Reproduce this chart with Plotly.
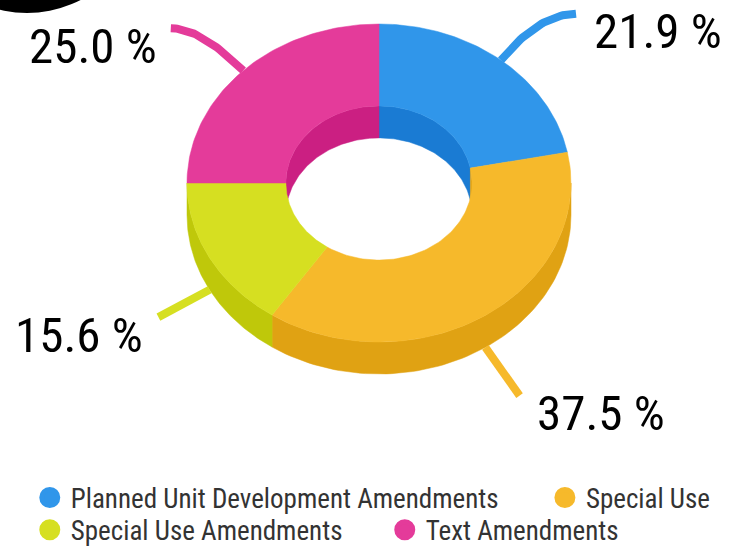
import numpy as np
import plotly.graph_objects as go

# ---- data ----
categories = ["Planned Unit Development Amendments", "Special Use",
              "Special Use Amendments", "Text Amendments"]
percent = [21.9, 37.5, 15.6, 25.0]

# ---- style ----
top_colors = ["#3096EA", "#F6B92B", "#D6DF21", "#E43B9A"]
dark_colors = ["#1A7BD3", "#E0A213", "#BFC80A", "#CB1F82"]
tick_len = [60, 58, 58, 60]        # radial run of each leader line
tick_ext = [37, 2, 0, 30]          # horizontal run of each leader line
label_gap = [16, 15, 13, 12]       # gap between leader end and label
FONT = "Roboto Condensed, Liberation Sans Narrow, DejaVu Sans Condensed, Roboto"

W, H = 738, 546
CX, CY, RX, RY, DEPTH, INNER = 379, 183, 192, 159, 32, 0.485


def pt(theta_deg, k=1.0, dy=0.0):
    t = np.radians(theta_deg)
    return CX + RX * k * np.cos(t), CY - RY * k * np.sin(t) + dy


def arc(a, b, k=1.0, dy=0.0, n=80):
    th = np.linspace(a, b, n)
    return pt(th, k, dy)


def overlap(lo, hi, intervals):
    out = []
    for a, b in intervals:
        l, h = max(lo, a), min(hi, b)
        if h - l > 1e-6:
            out.append((l, h))
    return out


fig = go.Figure()
total = sum(percent)
spans = []
cum = 0.0
for p in percent:
    a0 = 90 - 360 * cum / total
    a1 = a0 - 360 * p / total
    spans.append((a1, a0))
    cum += p

back = [(0, 180), (-360, -180)]
front = [(-180, 0), (-540, -360)]


def poly(xs, ys, color):
    fig.add_trace(go.Scatter(x=np.append(xs, xs[0]), y=np.append(ys, ys[0]),
                             mode="lines", fill="toself", fillcolor=color,
                             line=dict(color=color, width=0.5),
                             hoverinfo="skip", showlegend=False))


# inner walls (back half of the hole)
for i, (lo, hi) in enumerate(spans):
    for l, h in overlap(lo, hi, back):
        x1, y1 = arc(l, h, INNER)
        x2, y2 = arc(h, l, INNER, DEPTH)
        poly(np.concatenate([x1, x2]), np.concatenate([y1, y2]), dark_colors[i])

# outer side walls (front half)
for i, (lo, hi) in enumerate(spans):
    for l, h in overlap(lo, hi, front):
        x1, y1 = arc(l, h)
        x2, y2 = arc(h, l, 1.0, DEPTH)
        poly(np.concatenate([x1, x2]), np.concatenate([y1, y2]), dark_colors[i])

# top faces
for i, (lo, hi) in enumerate(spans):
    x1, y1 = arc(lo, hi)
    x2, y2 = arc(hi, lo, INNER)
    poly(np.concatenate([x1, x2]), np.concatenate([y1, y2]), top_colors[i])

# leader lines + labels
for i, (lo, hi) in enumerate(spans):
    mid = (lo + hi) / 2
    s = np.sin(np.radians(mid))
    c = np.cos(np.radians(mid))
    x0, y0 = pt(mid, 1.0, DEPTH if s < 0 else 0.0)
    x1, y1 = x0 + tick_len[i] * c, y0 - tick_len[i] * s
    sign = 1 if c >= 0 else -1
    x2, y2 = x1 + sign * tick_ext[i], y1
    t = np.linspace(0, 1, 40)
    bx = (1 - t) ** 2 * x0 + 2 * (1 - t) * t * x1 + t ** 2 * x2
    by = (1 - t) ** 2 * y0 + 2 * (1 - t) * t * y1 + t ** 2 * y2
    fig.add_trace(go.Scatter(x=bx, y=by, mode="lines",
                             line=dict(color=top_colors[i], width=8),
                             hoverinfo="skip", showlegend=False))
    fig.add_annotation(x=x2 + sign * label_gap[i], y=y2 + 18, text=f"{percent[i]:.1f} %",
                       showarrow=False, xanchor="left" if sign > 0 else "right",
                       yanchor="middle", font=dict(family=FONT, size=49, color="#000000"))

# legend entries, one legend per item for placement
legend_pos = [(0.039, 0.088), (0.737, 0.088), (0.039, 0.029), (0.520, 0.029)]
for i, name in enumerate(categories):
    lg = "legend" if i == 0 else f"legend{i + 1}"
    fig.add_trace(go.Scatter(x=[None], y=[None], mode="markers", name=name,
                             marker=dict(symbol="circle", size=16, color=top_colors[i],
                                         line=dict(color=top_colors[i], width=5)),
                             legend=lg, hoverinfo="skip"))

layout_legends = {}
for i, (lx, ly) in enumerate(legend_pos):
    key = "legend" if i == 0 else f"legend{i + 1}"
    layout_legends[key] = dict(x=lx, y=ly, xanchor="left", yanchor="middle",
                               orientation="h", bgcolor="rgba(0,0,0,0)",
                               itemsizing="trace", itemwidth=32,
                               font=dict(family=FONT, size=27, color="#333333"))

fig.update_layout(
    width=W, height=H, margin=dict(l=0, r=0, t=0, b=0, autoexpand=False),
    paper_bgcolor="#FFFFFF", plot_bgcolor="#FFFFFF",
    xaxis=dict(range=[0, W], visible=False, fixedrange=True),
    yaxis=dict(range=[H, 0], visible=False, fixedrange=True),
    shapes=[dict(type="circle", xref="x", yref="y", x0=27 - 117, x1=27 + 117,
                 y0=-104 - 117, y1=-104 + 117, fillcolor="#000000",
                 line=dict(width=0), layer="above")],
    **layout_legends,
)

fig.write_html("out.html")
